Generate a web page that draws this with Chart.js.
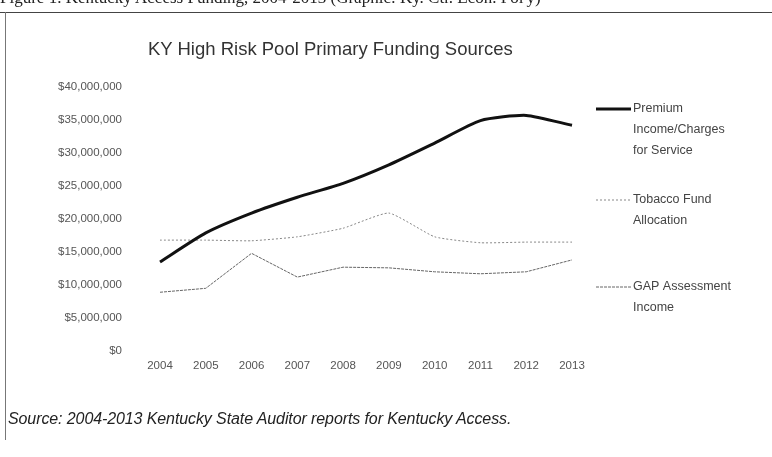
<!DOCTYPE html>
<html>
<head>
<meta charset="utf-8">
<script src="https://cdn.jsdelivr.net/npm/chart.js@4/dist/chart.umd.min.js"></script>
<style>
    html, body { margin: 0; padding: 0; background: #fff; }
    #page { position: relative; width: 772px; height: 457px; overflow: hidden; }
    #caption { position: absolute; left: 0; top: -12px; font-family: "Liberation Serif", serif; font-size: 17px; color: #222; white-space: nowrap; }
    #topRule { position: absolute; left: 0; top: 12px; width: 772px; height: 0; border-top: 1px solid #444; }
    #leftRule { position: absolute; left: 5px; top: 12px; width: 0; height: 428px; border-left: 1px solid #777; }
    #title { position: absolute; left: 148px; top: 38px; font-family: "Liberation Sans", Arial, sans-serif; font-size: 18.5px; color: #333; white-space: nowrap; }
    #source { position: absolute; left: 8px; top: 410px; font-family: "Liberation Sans", Arial, sans-serif; font-style: italic; font-size: 16px; letter-spacing: -0.1px; color: #222; white-space: nowrap; }
    #chartBox { position: absolute; left: 0; top: 0; width: 772px; height: 457px; }
</style>
</head>
<body>
<div id="page">
    <div id="chartBox"><canvas id="fundingChart" width="772" height="457"></canvas></div>
    <div id="caption">Figure 1. Kentucky Access Funding, 2004-2013 (Graphic: Ky. Ctr. Econ. Pol'y)</div>
    <div id="topRule"></div>
    <div id="leftRule"></div>
    <div id="title">KY High Risk Pool Primary Funding Sources</div>
    <div id="source">Source: 2004-2013 Kentucky State Auditor reports for Kentucky Access.</div>
</div>
<script>
// years on the x axis
const years = ['2004', '2005', '2006', '2007', '2008', '2009', '2010', '2011', '2012', '2013'];

// values, in dollars
const premiumIncome = [13500000, 17900000, 20900000, 23300000, 25400000, 28200000, 31500000, 34900000, 35700000, 34200000];
const tobaccoFund = [16800000, 16800000, 16700000, 17300000, 18600000, 20900000, 17300000, 16400000, 16500000, 16500000];
const gapAssessment = [8900000, 9500000, 14800000, 11200000, 12700000, 12600000, 12000000, 11700000, 12000000, 13800000];

const seriesNames = [
    ['Premium', 'Income/Charges', 'for Service'],
    ['Tobacco Fund', 'Allocation'],
    ['GAP Assessment', 'Income']
];

const yMax = 40000000;
const yStep = 5000000;

function dollars(v) {
    return '$' + Math.round(v).toString().replace(/\B(?=(\d{3})+(?!\d))/g, ',');
}

// legend at the right, one block per series, line sample then wrapped text
const sideLegend = {
    id: 'sideLegend',
    afterDraw(chart) {
        const ctx = chart.ctx;
        const rows = [109, 200, 287];
        ctx.save();
        chart.data.datasets.forEach((ds, i) => {
            const y = rows[i];
            ctx.strokeStyle = ds.borderColor;
            ctx.lineWidth = ds.borderWidth;
            ctx.setLineDash(ds.borderDash || []);
            ctx.beginPath();
            ctx.moveTo(596, y);
            ctx.lineTo(631, y);
            ctx.stroke();
            ctx.setLineDash([]);
            ctx.fillStyle = '#444';
            ctx.font = '12.5px "Liberation Sans", Arial, sans-serif';
            ctx.textBaseline = 'middle';
            ds.legendLines.forEach((line, j) => {
                ctx.fillText(line, 633, y + j * 21);
            });
        });
        ctx.restore();
    }
};

const ctx = document.getElementById('fundingChart').getContext('2d');
new Chart(ctx, {
    type: 'line',
    data: {
        labels: years,
        datasets: [
            {
                label: seriesNames[0].join(' '),
                legendLines: seriesNames[0],
                data: premiumIncome,
                borderColor: '#111',
                borderWidth: 3,
                pointRadius: 0,
                tension: 0.2
            },
            {
                label: seriesNames[1].join(' '),
                legendLines: seriesNames[1],
                data: tobaccoFund,
                borderColor: '#888',
                borderWidth: 1,
                borderDash: [2, 2],
                pointRadius: 0,
                tension: 0.15
            },
            {
                label: seriesNames[2].join(' '),
                legendLines: seriesNames[2],
                data: gapAssessment,
                borderColor: '#666',
                borderWidth: 1,
                borderDash: [3, 1],
                pointRadius: 0,
                tension: 0
            }
        ]
    },
    options: {
        responsive: false,
        animation: false,
        layout: { padding: { left: 0, right: 200, top: 87, bottom: 0 } },
        plugins: {
            legend: { display: false },
            tooltip: { enabled: false }
        },
        scales: {
            x: {
                offset: false,
                grid: { display: false, drawTicks: false },
                border: { display: false },
                ticks: {
                    color: '#555',
                    font: { family: '"Liberation Sans", Arial, sans-serif', size: 11.5 },
                    padding: 8,
                    maxRotation: 0,
                    autoSkip: false
                },
                afterFit(scale) { scale.height = 106; }
            },
            y: {
                min: 0,
                max: yMax,
                grid: { display: false, drawTicks: false },
                border: { display: false },
                ticks: {
                    stepSize: yStep,
                    color: '#555',
                    font: { family: '"Liberation Sans", Arial, sans-serif', size: 11.5 },
                    padding: 38,
                    callback: v => dollars(v)
                },
                afterFit(scale) { scale.width = 160; }
            }
        }
    },
    plugins: [sideLegend]
});
</script>
</body>
</html>
